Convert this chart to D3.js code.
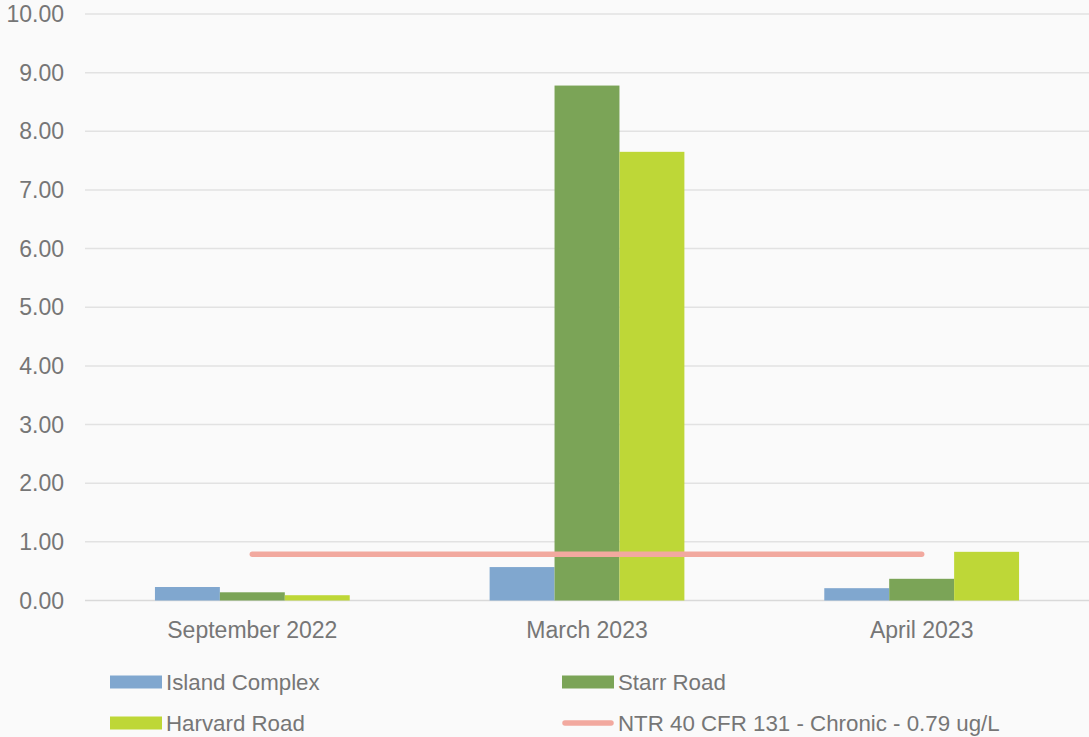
<!DOCTYPE html>
<html><head><meta charset="utf-8">
<script src="https://cdn.jsdelivr.net/npm/d3@7"></script>
<style>
html,body{margin:0;padding:0;background:#fafafa;}
svg{display:block;}
text{font-family:"Liberation Sans",Arial,sans-serif;fill:#767676;}
</style></head>
<body><svg id="c" width="1089" height="737"></svg>
<script>
const categories = ["September 2022", "March 2023", "April 2023"];
const seriesNames = ["Island Complex", "Starr Road", "Harvard Road"];
const islandComplex = [0.23, 0.57, 0.21];
const starrRoad = [0.14, 8.78, 0.37];
const harvardRoad = [0.09, 7.65, 0.83];
const thresholdName = "NTR 40 CFR 131 - Chronic - 0.79 ug/L";
const thresholdValue = 0.79;
const yTicks = [0,1,2,3,4,5,6,7,8,9,10];
const colors = ["#80a7cf", "#7ba457", "#bed737"];
const thresholdColor = "#f2a99f";

const svg = d3.select("#c");
const plotLeft = 85, plotRight = 1089, plotTop = 14, plotBottom = 600.5;
const y = d3.scaleLinear().domain([0,10]).range([plotBottom, plotTop]);
const x = d3.scaleBand().domain(categories).range([plotLeft, plotRight]).paddingInner(0).paddingOuter(0);
const groupPad = 0.209;
const x1 = d3.scaleBand().domain(seriesNames).range([x.bandwidth()*groupPad, x.bandwidth()*(1-groupPad)]);

// gridlines
svg.append("g").selectAll("line").data(yTicks).join("line")
  .attr("x1", plotLeft).attr("x2", plotRight)
  .attr("y1", d=>y(d)).attr("y2", d=>y(d))
  .attr("stroke", d=> d===0 ? "#d9d9d9" : "#e2e2e2").attr("stroke-width", 1.5);

// y labels
svg.append("g").selectAll("text").data(yTicks).join("text")
  .attr("x", 64).attr("y", d=>y(d)).attr("dy","0.35em")
  .attr("text-anchor","end").style("font-size","23px")
  .text(d=>d3.format(".2f")(d));

const series = [islandComplex, starrRoad, harvardRoad];
seriesNames.forEach((name, si) => {
  svg.append("g").selectAll("rect").data(categories).join("rect")
    .attr("x", c => x(c) + x1(name))
    .attr("width", x1.bandwidth())
    .attr("y", (c,i) => y(series[si][i]))
    .attr("height", (c,i) => y(0) - y(series[si][i]))
    .attr("fill", colors[si]);
});

// threshold line
svg.append("line")
  .attr("x1", x(categories[0]) + x.bandwidth()/2)
  .attr("x2", x(categories[categories.length-1]) + x.bandwidth()/2)
  .attr("y1", y(thresholdValue)).attr("y2", y(thresholdValue))
  .attr("stroke", thresholdColor).attr("stroke-width", 5.5).attr("stroke-linecap","round");

// category labels
svg.append("g").selectAll("text").data(categories).join("text")
  .attr("x", c => x(c) + x.bandwidth()/2).attr("y", 630).attr("dy","0.35em")
  .attr("text-anchor","middle").style("font-size","23px")
  .text(c=>c);

// legend
const legendItems = [
  {name: seriesNames[0], color: colors[0], type:"rect", x:110, y:682},
  {name: seriesNames[1], color: colors[1], type:"rect", x:562, y:682},
  {name: seriesNames[2], color: colors[2], type:"rect", x:110, y:723},
  {name: thresholdName, color: thresholdColor, type:"line", x:562, y:723}
];
const lg = svg.append("g");
legendItems.forEach(it => {
  if (it.type === "rect") {
    lg.append("rect").attr("x", it.x).attr("y", it.y-6.5).attr("width", 52).attr("height", 13).attr("fill", it.color);
  } else {
    lg.append("line").attr("x1", it.x+3).attr("x2", it.x+49).attr("y1", it.y).attr("y2", it.y)
      .attr("stroke", it.color).attr("stroke-width", 5.5).attr("stroke-linecap","round");
  }
  lg.append("text").attr("x", it.x+56).attr("y", it.y).attr("dy","0.35em")
    .style("font-size","22.3px")
    .text(it.name);
});
</script></body></html>
